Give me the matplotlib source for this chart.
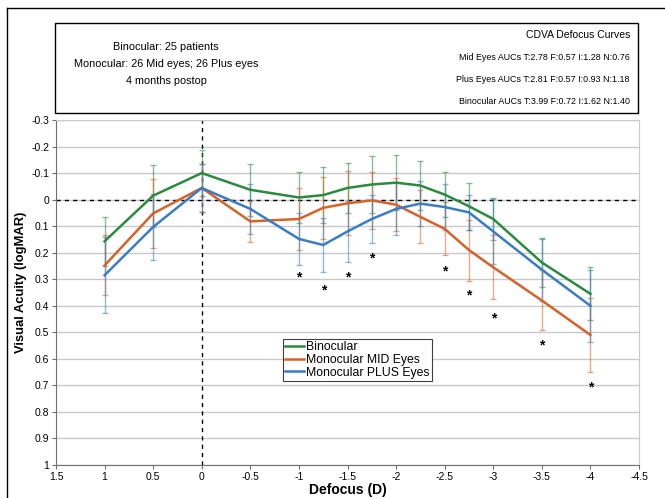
import matplotlib
matplotlib.use("Agg")
import matplotlib.pyplot as plt
from matplotlib.lines import Line2D
from matplotlib.patches import Rectangle

plt.rcParams['font.family'] = ['Liberation Sans', 'DejaVu Sans']

defocus = [1, 0.5, 0, -0.5, -1, -1.25, -1.5, -1.75, -2, -2.25, -2.5, -2.75, -3, -3.5, -4]

bino = [0.157, -0.015, -0.10, -0.037, -0.008, -0.017, -0.044, -0.057, -0.064, -0.053, -0.019, 0.025, 0.073, 0.237, 0.355]
bino_sd = [0.092, 0.117, 0.086, 0.098, 0.095, 0.106, 0.094, 0.109, 0.105, 0.094, 0.085, 0.089, 0.079, 0.092, 0.10]

mid = [0.248, 0.052, -0.044, 0.082, 0.073, 0.031, 0.014, 0.003, 0.019, 0.065, 0.11, 0.19, 0.255, 0.38, 0.51]
mid_sd = [0.113, 0.13, 0.092, 0.077, 0.115, 0.116, 0.12, 0.108, 0.10, 0.10, 0.10, 0.115, 0.12, 0.113, 0.14]

plus = [0.285, 0.103, -0.044, 0.035, 0.148, 0.171, 0.12, 0.073, 0.035, 0.015, 0.028, 0.048, 0.12, 0.264, 0.40]
plus_sd = [0.143, 0.125, 0.09, 0.095, 0.097, 0.10, 0.115, 0.092, 0.098, 0.085, 0.088, 0.065, 0.122, 0.117, 0.136]

star_x = [-1, -1.25, -1.5, -1.75, -2.5, -2.75, -3, -3.5, -4]
star_y = [0.292, 0.342, 0.292, 0.22, 0.27, 0.36, 0.447, 0.55, 0.708]

x_ticks = [1.5, 1, 0.5, 0, -0.5, -1, -1.5, -2, -2.5, -3, -3.5, -4, -4.5]
x_labels = ['1.5', '1', '0.5', '0', '-0.5', '-1', '-1.5', '-2', '-2.5', '-3', '-3.5', '-4', '-4.5']
y_ticks = [-0.3, -0.2, -0.1, 0, 0.1, 0.2, 0.3, 0.4, 0.5, 0.6, 0.7, 0.8, 0.9, 1]
y_labels = ['-0.3', '-0.2', '-0.1', '0', '0.1', '0.2', '0.3', '0.4', '0.5', '0.6', '0.7', '0.8', '0.9', '1']

green = '#2b8a3e'
orange = '#d6622a'
blue = '#3a7dc6'

fig = plt.figure(figsize=(6.65, 4.98), dpi=100)
ax = fig.add_axes([56/665, 1-465/498, 583/665, 345/498])

for y in y_ticks:
    ax.axhline(y, color='#c9c9c9', lw=1, zorder=0)

ax.axvline(0, color='black', ls=(0, (3, 3)), lw=1, zorder=1)
ax.axhline(0, color='black', ls=(0, (3, 3)), lw=1, zorder=1)

for vals, sd, col, lab in [(bino, bino_sd, green, 'Binocular'),
                           (mid, mid_sd, orange, 'Monocular MID Eyes'),
                           (plus, plus_sd, blue, 'Monocular PLUS Eyes')]:
    ax.errorbar(defocus, vals, yerr=sd, fmt='none', ecolor=col, alpha=0.55,
                elinewidth=1, capsize=2, capthick=1, zorder=2)
    ax.plot(defocus, vals, color=col, lw=1.8, label=lab, zorder=3)

for sx, sy in zip(star_x, star_y):
    ax.text(sx, sy, '*', ha='center', va='center', fontsize=10, fontweight='bold', zorder=4)

ax.set_xlim(1.5, -4.5)
ax.set_ylim(1, -0.3)
ax.set_xticks(x_ticks)
ax.set_xticklabels(x_labels)
ax.set_yticks(y_ticks)
ax.set_yticklabels(y_labels)
ax.tick_params(labelsize=7.5, length=3, width=0.8, color='#707070', pad=2)
for s in ['left', 'bottom']:
    ax.spines[s].set_color('#707070')
for s in ['right', 'top']:
    ax.spines[s].set_color('#c9c9c9')

ax.set_xlabel('Defocus (D)', fontsize=10, fontweight='bold', labelpad=1)
ax.set_ylabel('Visual Acuity (logMAR)', fontsize=9.4, fontweight='bold')
ax.yaxis.set_label_coords(-29/583, (465-282)/345)

leg = ax.legend(loc='upper left', bbox_to_anchor=(227/583, 1-(339-120)/345), fontsize=8.8,
                handlelength=1.5, handletextpad=0.15, borderpad=0.2, labelspacing=0.05,
                fancybox=False, framealpha=1, edgecolor='#404040', borderaxespad=0)
leg.get_frame().set_linewidth(0.8)

# header box
fig.patches.append(Rectangle((55/665, 1-113/498), 583/665, 90/498, transform=fig.transFigure,
                             fill=False, edgecolor='black', lw=1))
fig.lines.append(Line2D([7/665, 7/665], [0, 1-8/498], transform=fig.transFigure, color='black', lw=1))
fig.lines.append(Line2D([7/665, 1], [1-8/498, 1-8/498], transform=fig.transFigure, color='black', lw=1))

left_lines = ['Binocular: 25 patients', 'Monocular: 26 Mid eyes; 26 Plus eyes', '4 months postop']
for i, t in enumerate(left_lines):
    fig.text(166/665, 1-(47+i*17)/498, t, ha='center', va='center', fontsize=7.8)
right_lines = ['CDVA Defocus Curves',
               'Mid Eyes AUCs T:2.78 F:0.57 I:1.28 N:0.76',
               'Plus Eyes AUCs T:2.81 F:0.57 I:0.93 N:1.18',
               'Binocular AUCs T:3.99 F:0.72 I:1.62 N:1.40']
for i, t in enumerate(right_lines):
    fig.text(630/665, 1-(35+i*22)/498, t, ha='right', va='center', fontsize=7.5 if i == 0 else 6.4)

fig.savefig('out.png', dpi=100)
